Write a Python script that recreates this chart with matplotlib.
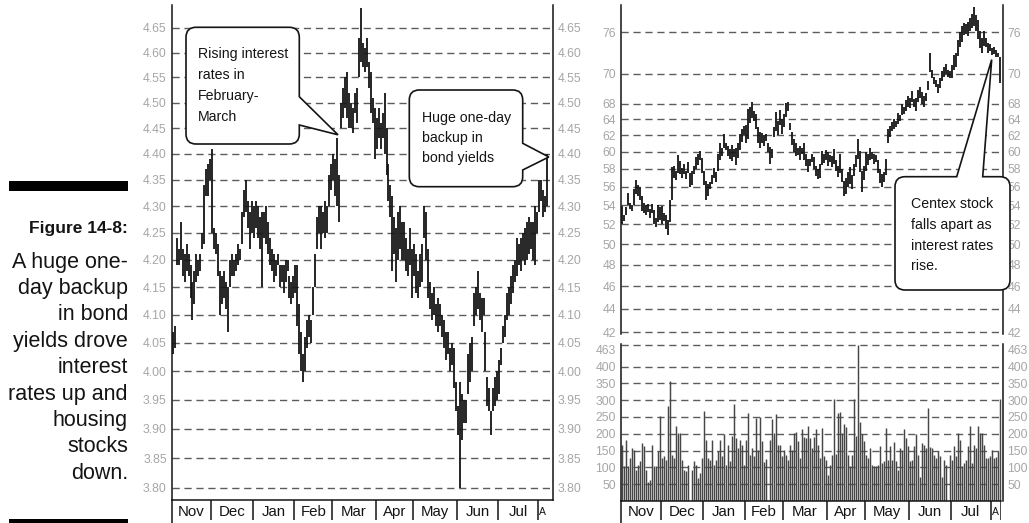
import matplotlib
matplotlib.use("Agg")
import matplotlib.pyplot as plt
from matplotlib.path import Path
from matplotlib.patches import PathPatch, Rectangle
import matplotlib.ticker as mticker
import numpy as np

W, H = 1029, 523
SANS = ["Liberation Sans", "DejaVu Sans"]

plt.rcParams.update({
    "font.family": SANS,
    "lines.scale_dashes": False,
    "axes.linewidth": 1.1,
})

MONTHS = ["Nov", "Dec", "Jan", "Feb", "Mar", "Apr", "May", "Jun", "Jul", "A"]
MONTH_DAYS = [20, 21, 21, 19, 22, 19, 22, 21, 20, 5]

# 10-year Treasury yield, daily low / high (%)
YIELD_LO = [
    4.03, 4.04, 4.19, 4.19, 4.20, 4.17, 4.16, 4.18, 4.17, 4.13, 4.09, 4.12, 4.16, 4.17, 4.18, 4.22, 4.23, 4.32, 4.32, 4.35,
    4.25, 4.22, 4.21, 4.17, 4.10, 4.12, 4.13, 4.11, 4.07, 4.15, 4.17, 4.17, 4.18, 4.19, 4.20, 4.23, 4.28, 4.29, 4.26, 4.22, 4.25,
    4.24, 4.26, 4.24, 4.22, 4.15, 4.24, 4.23, 4.21, 4.19, 4.18, 4.16, 4.17, 4.19, 4.15, 4.16, 4.14, 4.16, 4.18, 4.13, 4.12, 4.13,
    4.14, 4.08, 4.03, 4.00, 3.98, 4.00, 4.04, 4.06, 4.05, 4.10, 4.15, 4.22, 4.25, 4.22, 4.25, 4.24, 4.25, 4.30, 4.33,
    4.35, 4.32, 4.30, 4.27, 4.45, 4.47, 4.49, 4.47, 4.45, 4.45, 4.44, 4.48, 4.46, 4.55, 4.58, 4.57, 4.56, 4.57, 4.53, 4.48, 4.46, 4.39,
    4.41, 4.43, 4.41, 4.43, 4.40, 4.36, 4.31, 4.28, 4.18, 4.21, 4.16, 4.20, 4.22, 4.20, 4.20, 4.18, 4.17, 4.19, 4.13,
    4.17, 4.14, 4.13, 4.15, 4.16, 4.24, 4.20, 4.13, 4.11, 4.09, 4.10, 4.08, 4.07, 4.08, 4.06, 4.04, 4.02, 4.03, 4.00, 4.01, 3.97, 3.93,
    3.89, 3.80, 3.88, 3.91, 3.91, 3.96, 3.98, 4.00, 4.08, 4.10, 4.11, 4.09, 4.07, 4.10, 4.00, 3.94, 3.93, 3.89, 3.93, 3.94, 3.95,
    3.96, 4.01, 4.05, 4.06, 4.09, 4.10, 4.12, 4.14, 4.16, 4.17, 4.19, 4.18, 4.20, 4.19, 4.20, 4.21, 4.22, 4.20, 4.19, 4.25,
    4.29, 4.31, 4.28, 4.29, 4.30,
]
YIELD_HI = [
    4.07, 4.08, 4.24, 4.22, 4.27, 4.22, 4.21, 4.23, 4.21, 4.19, 4.16, 4.18, 4.21, 4.20, 4.21, 4.25, 4.34, 4.37, 4.38, 4.39,
    4.41, 4.26, 4.25, 4.23, 4.18, 4.17, 4.18, 4.16, 4.15, 4.20, 4.21, 4.20, 4.21, 4.23, 4.22, 4.29, 4.33, 4.35, 4.31, 4.29, 4.31,
    4.30, 4.31, 4.30, 4.28, 4.29, 4.29, 4.30, 4.27, 4.24, 4.22, 4.21, 4.20, 4.21, 4.19, 4.19, 4.19, 4.20, 4.20, 4.17, 4.16, 4.17,
    4.19, 4.19, 4.12, 4.07, 4.03, 4.06, 4.09, 4.10, 4.09, 4.15, 4.21, 4.28, 4.30, 4.30, 4.29, 4.31, 4.30, 4.36, 4.38,
    4.40, 4.39, 4.43, 4.36, 4.50, 4.53, 4.55, 4.56, 4.52, 4.50, 4.49, 4.52, 4.53, 4.63, 4.69, 4.62, 4.61, 4.63, 4.58, 4.56, 4.51, 4.49,
    4.47, 4.49, 4.46, 4.48, 4.52, 4.45, 4.38, 4.34, 4.32, 4.28, 4.26, 4.29, 4.30, 4.27, 4.27, 4.24, 4.22, 4.26, 4.22,
    4.23, 4.21, 4.18, 4.21, 4.23, 4.30, 4.29, 4.22, 4.16, 4.14, 4.15, 4.12, 4.13, 4.12, 4.10, 4.09, 4.07, 4.07, 4.04, 4.05, 4.04, 3.98,
    3.94, 3.98, 3.96, 3.95, 3.95, 4.03, 4.05, 4.06, 4.14, 4.15, 4.18, 4.14, 4.13, 4.13, 4.07, 3.99, 3.97, 3.93, 3.97, 3.99, 4.00,
    4.02, 4.04, 4.08, 4.10, 4.14, 4.15, 4.17, 4.19, 4.20, 4.24, 4.23, 4.24, 4.25, 4.26, 4.27, 4.28, 4.27, 4.27, 4.30, 4.29,
    4.35, 4.35, 4.33, 4.32, 4.40,
]
YIELD_TICKS = [3.80, 3.85, 3.90, 3.95, 4.00, 4.05, 4.10, 4.15, 4.20, 4.25,
               4.30, 4.35, 4.40, 4.45, 4.50, 4.55, 4.60, 4.65]

# Centex (CTX) daily low / high ($) and volume
CTX_LO = [
    52.0, 52.3, 53.0, 54.0, 53.6, 53.4, 54.0, 55.2, 55.0, 54.6, 53.4, 53.2, 53.0, 53.3, 52.6, 53.2, 52.0, 51.7, 52.2, 52.4,
    52.0, 52.3, 51.5, 50.9, 52.2, 54.5, 57.0, 56.8, 57.5, 57.4, 57.0, 57.4, 56.9, 57.5, 56.0, 56.2, 57.4, 58.0, 58.5, 59.0, 57.5,
    56.2, 54.6, 55.0, 55.8, 56.3, 57.0, 56.5, 57.8, 59.0, 59.5, 60.5, 60.2, 59.5, 59.2, 58.9, 59.4, 58.5, 59.3, 60.2, 61.2, 62.0,
    61.0, 61.5, 63.5, 64.2, 63.8, 62.8, 61.0, 60.5, 61.0, 60.7, 61.3, 60.0, 58.6, 59.3, 61.8, 62.5, 62.0, 63.3, 62.2,
    63.0, 64.3, 65.0, 62.6, 60.8, 60.0, 59.5, 59.6, 59.0, 59.7, 59.0, 58.4, 57.6, 58.3, 58.8, 58.0, 57.2, 56.9, 57.0, 58.5, 58.7, 59.0,
    58.4, 58.8, 58.2, 58.6, 57.8, 57.1, 57.5, 56.5, 55.0, 55.2, 56.0, 56.3, 55.7, 57.2, 58.2, 59.2, 57.6, 55.4, 56.8,
    57.8, 58.5, 59.0, 59.2, 58.6, 58.8, 57.5, 56.4, 56.0, 56.5, 57.3, 61.0, 61.8, 62.5, 62.8, 63.0, 63.4, 63.8, 64.5, 64.6, 65.0, 65.6,
    65.4, 66.2, 65.6, 65.0, 66.2, 66.8, 66.0, 65.5, 66.4, 67.8, 70.2, 69.4, 68.6, 68.2, 67.4, 68.0, 69.0, 69.6, 70.0, 69.6, 69.4,
    69.4, 70.5, 71.0, 72.5, 73.8, 74.5, 75.6, 75.8, 75.4, 76.2, 76.6, 77.0, 76.2, 75.0, 73.6, 72.9, 74.0, 73.8, 73.0, 73.2,
    72.6, 72.8, 72.4, 72.3, 68.8,
]
CTX_HI = [
    53.9, 53.0, 53.8, 55.3, 54.2, 54.0, 55.7, 56.7, 56.2, 56.0, 55.0, 54.2, 54.0, 54.1, 53.6, 54.1, 53.5, 52.6, 54.0, 53.8,
    53.9, 53.2, 53.0, 52.4, 54.6, 58.2, 58.3, 57.8, 59.6, 58.9, 58.1, 58.6, 57.8, 58.8, 57.5, 57.8, 58.4, 59.4, 59.8, 60.1, 59.3,
    57.8, 56.6, 56.3, 56.5, 57.3, 58.1, 57.7, 59.8, 61.0, 60.5, 62.1, 61.0, 60.7, 60.3, 60.8, 60.3, 60.5, 61.0, 62.2, 62.8, 63.2,
    63.3, 65.3, 65.5, 66.2, 65.0, 64.6, 63.0, 62.4, 62.3, 62.0, 62.2, 61.0, 60.6, 60.3, 63.0, 64.9, 63.8, 65.2, 64.0,
    64.6, 66.1, 66.2, 63.5, 62.4, 61.6, 61.0, 60.5, 60.7, 60.5, 61.0, 59.7, 59.1, 59.2, 59.8, 59.4, 58.3, 58.0, 58.6, 60.1, 59.7, 60.2,
    60.0, 59.6, 59.5, 60.3, 59.0, 58.4, 59.8, 58.0, 56.6, 57.0, 57.6, 58.2, 57.3, 58.6, 59.6, 61.6, 60.1, 57.8, 58.4,
    60.0, 59.7, 60.4, 60.0, 59.8, 59.6, 59.0, 58.0, 57.4, 57.6, 59.2, 62.8, 63.2, 63.6, 64.0, 63.8, 64.8, 64.5, 66.0, 65.5, 66.5, 67.0,
    66.8, 67.6, 66.6, 66.8, 67.8, 68.2, 67.5, 67.0, 67.4, 69.0, 72.9, 70.6, 69.6, 69.2, 68.6, 69.4, 70.4, 71.0, 71.4, 70.6, 70.4,
    71.2, 72.6, 73.0, 74.8, 76.0, 77.0, 77.4, 77.2, 77.6, 78.2, 78.8, 79.9, 78.6, 77.8, 76.2, 75.2, 76.2, 75.2, 74.4, 74.2,
    73.6, 73.8, 73.4, 73.0, 72.4,
]
CTX_VOL = [
    168, 103, 183, 103, 128, 158, 153, 93, 108, 118, 173, 163, 93, 58, 63, 168, 103, 103, 148, 253,
    128, 133, 123, 283, 358, 138, 128, 223, 203, 203, 123, 93, 88, 108, 0, 93, 118, 108, 68, 83, 128,
    268, 183, 128, 123, 183, 108, 123, 148, 183, 133, 198, 108, 168, 118, 193, 288, 188, 158, 183, 168, 108,
    183, 261, 138, 158, 133, 248, 151, 251, 178, 115, 125, 0, 183, 243, 203, 258, 168, 168, 133,
    151, 138, 121, 168, 151, 203, 205, 178, 128, 213, 191, 188, 223, 188, 158, 191, 213, 168, 128, 218, 133, 123,
    78, 108, 138, 303, 141, 263, 265, 203, 228, 221, 138, 105, 138, 303, 193, 463, 235, 198, 178,
    138, 128, 158, 108, 103, 103, 108, 163, 113, 118, 218, 123, 163, 123, 175, 118, 93, 158, 153, 213, 188, 163,
    120, 123, 163, 198, 138, 73, 173, 168, 158, 278, 161, 158, 138, 128, 148, 133, 73, 123, 108, 0, 138,
    123, 163, 133, 203, 183, 103, 113, 123, 163, 223, 113, 168, 158, 223, 203, 201, 168, 128, 128, 133,
    153, 128, 130, 150, 303,
]
PRICE_TICKS = [42, 44, 46, 48, 50, 52, 54, 56, 58, 60, 62, 64, 66, 70, 76]
PRICE_LABELS = ["42", "44", "46", "48", "50", "52", "54", "56", "58", "60", "62", "64", "68", "70", "76"]
VOL_TICKS = [50, 100, 150, 200, 250, 300, 350, 400, 463]

CAPTION = ["A huge one-", "day backup", "in bond", "yields drove", "interest",
           "rates up and", "housing", "stocks", "down."]

days = np.arange(len(YIELD_LO))
bounds = np.concatenate([[0], np.cumsum(MONTH_DAYS)]) - 0.5

INK = "#141414"
TICK_GRAY = "#a6a6a6"
GRID = dict(color="#5c5c5c", linewidth=1.0, linestyle=(0, (5.2, 3.4)))

fig = plt.figure(figsize=(W / 100, H / 100), dpi=100)
fig.patch.set_facecolor("white")


def px_axes(x0, y0, x1, y1):
    """Axes placed by pixel box (y measured from the top)."""
    return fig.add_axes([x0 / W, 1 - y1 / H, (x1 - x0) / W, (y1 - y0) / H])


def to_fig(x, y):
    return x / W, 1 - y / H


def panel_style(ax, ticks, labels):
    ax.set_yticks(ticks)
    ax.set_yticklabels(labels)
    ax.yaxis.set_minor_locator(mticker.NullLocator())
    ax.yaxis.set_minor_formatter(mticker.NullFormatter())
    ax.tick_params(axis="y", length=0, pad=3.5, labelsize=8.8, labelcolor=TICK_GRAY,
                   labelleft=True, labelright=True)
    ax.set_xticks([])
    ax.grid(axis="y", **GRID)
    ax.set_axisbelow(True)
    for side in ("top", "bottom"):
        ax.spines[side].set_visible(False)
    for side in ("left", "right"):
        ax.spines[side].set_color(INK)
    ax.patch.set_alpha(0)


def month_strip(ax, xlim, close_end):
    ax.set_xlim(xlim)
    ax.set_ylim(23, 0)
    ax.set_xticks([])
    ax.set_yticks([])
    for side in ("right", "bottom"):
        ax.spines[side].set_visible(False)
    ax.spines["left"].set_color(INK)
    ax.spines["top"].set_color(INK)
    ax.patch.set_alpha(0)
    seps = bounds[1:] if close_end else bounds[1:-1]
    ax.vlines(seps, 0, 20, color=INK, lw=1.1)
    for i, name in enumerate(MONTHS):
        mid = (bounds[i] + bounds[i + 1]) / 2
        ax.text(mid, 11.7, name, ha="center", va="center",
                fontsize=7.5 if name == "A" else 10.8, color=INK)


def callout(ax, tip, box, lines, text_x, base0, step, side, attach, r=10):
    tx, ty = ax.transData.transform(tip)
    tip_px = (tx, H - ty)
    x0, y0, x1, y1 = box
    M, L, C = Path.MOVETO, Path.LINETO, Path.CURVE3
    a, b = attach
    if side == "right":
        pts = [(x0 + r, y0), (x1 - r, y0), (x1, y0), (x1, y0 + r), (x1, a), tip_px, (x1, b),
               (x1, y1 - r), (x1, y1), (x1 - r, y1), (x0 + r, y1), (x0, y1), (x0, y1 - r),
               (x0, y0 + r), (x0, y0), (x0 + r, y0), (x0 + r, y0)]
        codes = [M, L, C, C, L, L, L, L, C, C, L, C, C, L, C, C, Path.CLOSEPOLY]
    else:
        pts = [(x0 + r, y0), (a, y0), tip_px, (b, y0), (x1 - r, y0), (x1, y0), (x1, y0 + r),
               (x1, y1 - r), (x1, y1), (x1 - r, y1), (x0 + r, y1), (x0, y1), (x0, y1 - r),
               (x0, y0 + r), (x0, y0), (x0 + r, y0), (x0 + r, y0)]
        codes = [M, L, L, L, L, C, C, L, C, C, L, C, C, L, C, C, Path.CLOSEPOLY]
    verts = [to_fig(x, y) for x, y in pts]
    patch = PathPatch(Path(verts, codes), transform=fig.transFigure, facecolor="white",
                      edgecolor=INK, lw=1.2, zorder=20, joinstyle="miter")
    fig.add_artist(patch)
    for k, line in enumerate(lines):
        fig.text(*to_fig(text_x, base0 + k * step), line, ha="left", va="baseline",
                 fontsize=10.2, color=INK, zorder=21)


# ---- left: bond yields ----
axL = px_axes(171.7, 5, 553, 500)
axL.set_yscale("log")
axL.set_ylim(3.780, 4.697)
axL.set_xlim(-0.5, 192.1)
axL.vlines(days, YIELD_LO, YIELD_HI, color=INK, lw=1.3)
panel_style(axL, YIELD_TICKS, [f"{t:.2f}" for t in YIELD_TICKS])

stripL = px_axes(171.7, 500, 553, 523)
month_strip(stripL, (-0.5, 192.1), close_end=False)

# ---- right: Centex price ----
axR = px_axes(620.7, 5, 1002.7, 334)
axR.set_yscale("log")
axR.set_ylim(41.86, 80.2)
axR.set_xlim(-0.5, 190.5)
axR.vlines(days, CTX_LO, CTX_HI, color=INK, lw=1.3)
panel_style(axR, PRICE_TICKS, PRICE_LABELS)

# ---- right: volume ----
axV = px_axes(620.7, 344, 1002.7, 501.1)
axV.set_ylim(0, 467)
axV.set_xlim(-0.5, 190.5)
axV.vlines(days, 0, CTX_VOL, color="#464646", lw=1.05)
panel_style(axV, VOL_TICKS, [str(t) for t in VOL_TICKS])
for tick in axV.yaxis.get_major_ticks()[-1:]:
    tick.label1.set_va("top")
    tick.label2.set_va("top")

stripR = px_axes(620.7, 501.1, 1000.7, 523)
month_strip(stripR, (-0.5, 189.5), close_end=True)

# ---- callouts ----
callout(axL, (83.5, 4.437), (186, 27.3, 299.3, 144),
        ["Rising interest", "rates in", "February-", "March"],
        198.3, 58.3, 20.8, "right", (96.7, 125))
callout(axL, (190.0, 4.394), (409.3, 90, 522.7, 186.7),
        ["Huge one-day", "backup in", "bond yields"],
        421.7, 121.7, 20.3, "right", (143.3, 170))
callout(axR, (185.0, 72.0), (895, 176.7, 1010, 290),
        ["Centex stock", "falls apart as", "interest rates", "rise."],
        910.7, 208.3, 20.6, "top", (956.7, 982.7))

# ---- caption column ----
fig.add_artist(Rectangle(to_fig(9, 190.7), 119 / W, 10 / H, transform=fig.transFigure,
                         facecolor="black", edgecolor="none"))
fig.add_artist(Rectangle(to_fig(9, 523), 119 / W, 4 / H, transform=fig.transFigure,
                         facecolor="black", edgecolor="none"))
fig.text(*to_fig(128, 232.7), "Figure 14-8:", ha="right", va="baseline",
         fontweight="bold", fontsize=12.5, color=INK)
for k, line in enumerate(CAPTION):
    fig.text(*to_fig(128, 267.7 + k * 26.4), line, ha="right", va="baseline",
             fontsize=15.5, color=INK)

fig.savefig("out.png", dpi=100, facecolor="white")
